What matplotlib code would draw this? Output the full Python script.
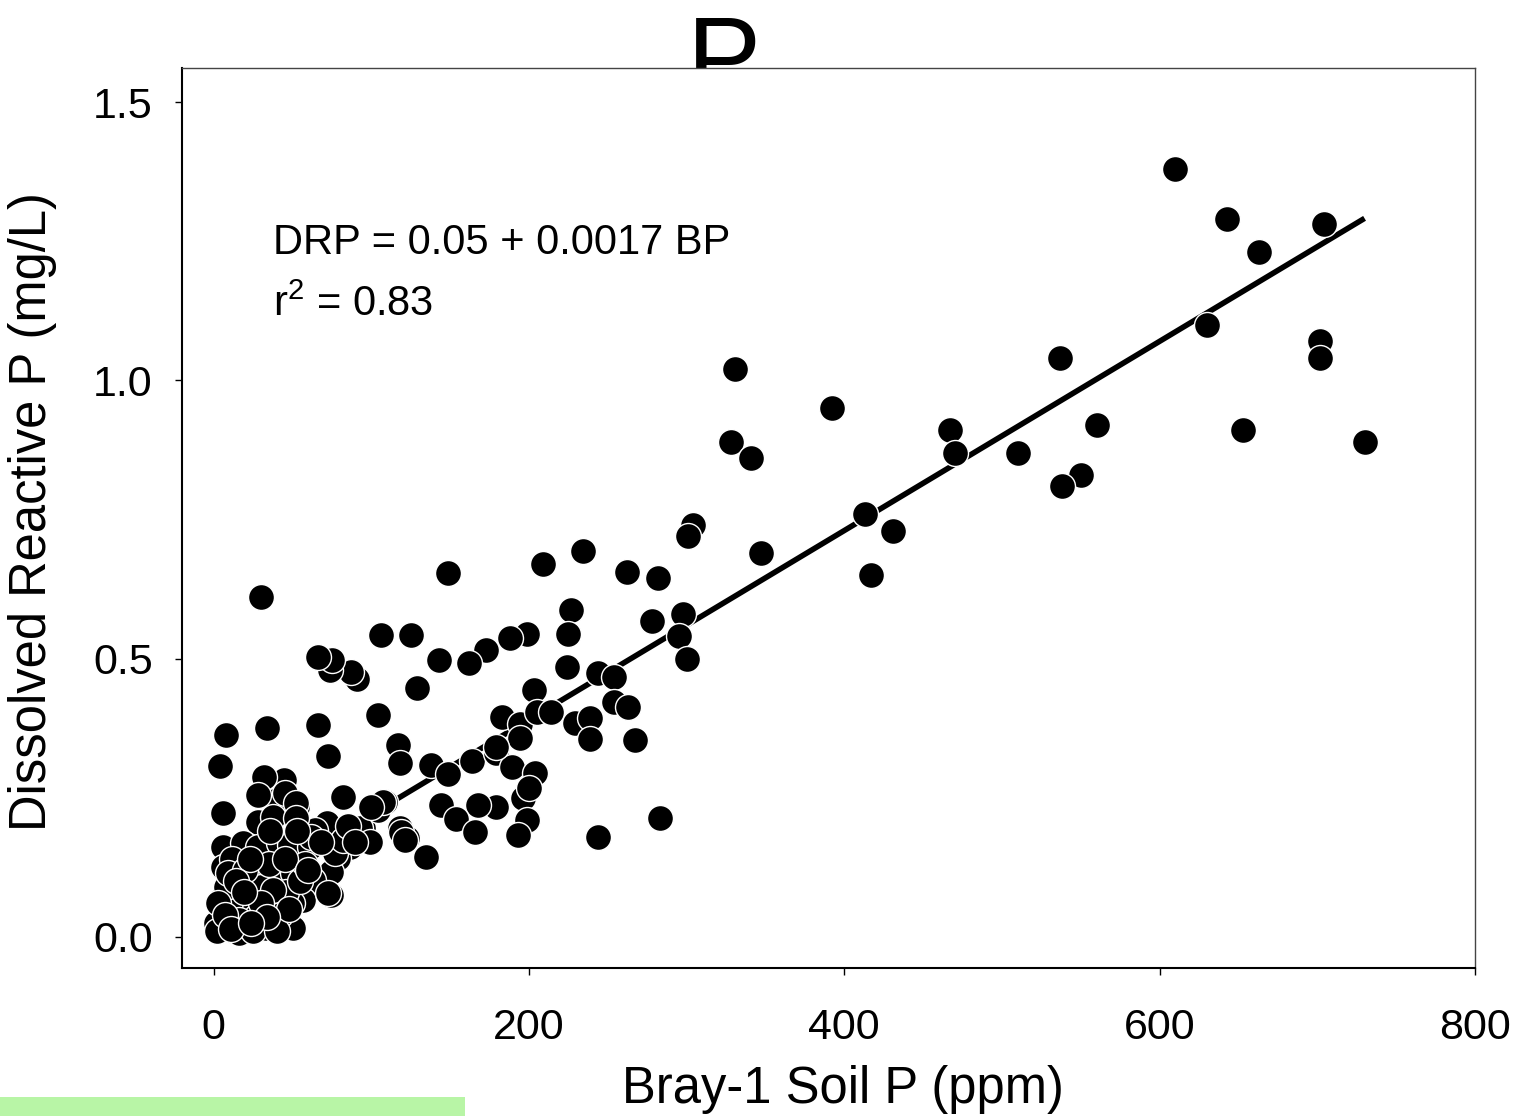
import matplotlib
matplotlib.use('Agg')
import matplotlib.pyplot as plt
from matplotlib.patches import Rectangle
import numpy as np

plt.rcParams['font.family'] = ['Liberation Sans', 'DejaVu Sans']
plt.rcParams['mathtext.default'] = 'regular'

# Bray-1 soil P (ppm) and dissolved reactive P (mg/L)
bp = [610, 643, 663, 704, 630, 702, 702, 653, 730, 537, 560, 550, 538, 510, 467, 470,
      392, 331, 328, 341, 413, 431, 417, 347, 304, 301, 298, 295, 300, 282, 278, 262,
      234, 209, 227, 225, 224, 199, 188, 173, 162, 149, 143, 125, 106.5, 30, 129, 91,
      87, 74, 75, 66.5, 66, 34, 8, 4, 104, 72.5, 82,
      203, 183, 194.6, 194.6, 205, 214, 244, 254, 254, 263, 229, 239, 239, 267.5, 117,
      118.5, 138, 149, 164, 179, 189, 204, 196, 199, 193, 179, 168, 144, 154, 166, 109,
      94.5, 123, 118.5, 283, 244, 135, 179, 200, 104.6, 107.7, 119, 121.7, 93, 86.8,
      99.5, 72, 64.6, 79.2, 74.2, 62.8, 74.2, 44.4, 53, 40, 57, 44.4,
      31.7, 28.5, 45.6, 52, 6.3, 27.9, 38, 52, 100, 6.3, 18.4, 28.5, 41.2, 48.8, 61,
      77.3, 82, 5.7, 24.7, 39.3, 50.7, 72.9, 13.9, 33, 6.3, 5.7, 20.3, 37.4, 50, 4.4,
      12, 33, 44.4, 50.7, 1.3, 16,
      10, 15, 8, 18, 12, 22, 26, 30, 35, 42, 46, 55, 58, 62, 27, 3, 9, 20, 31, 38,
      45, 53, 68, 85, 90, 36, 23, 16, 25, 40, 30, 14, 48, 2, 7, 19, 34, 11, 24, 60]
drp = [1.38, 1.29, 1.23, 1.28, 1.10, 1.07, 1.04, 0.91, 0.89, 1.04, 0.92, 0.83, 0.81, 0.87, 0.91, 0.87,
       0.95, 1.02, 0.89, 0.86, 0.76, 0.73, 0.65, 0.69, 0.74, 0.72, 0.58, 0.54, 0.50, 0.645, 0.567, 0.655,
       0.693, 0.670, 0.587, 0.544, 0.485, 0.544, 0.537, 0.515, 0.492, 0.653, 0.497, 0.542, 0.542, 0.610, 0.447, 0.463,
       0.476, 0.479, 0.497, 0.503, 0.381, 0.375, 0.363, 0.307, 0.399, 0.325, 0.251,
       0.443, 0.395, 0.382, 0.357, 0.404, 0.404, 0.474, 0.467, 0.422, 0.413, 0.384, 0.393, 0.355, 0.354, 0.345,
       0.312, 0.309, 0.293, 0.316, 0.330, 0.305, 0.294, 0.250, 0.210, 0.183, 0.233, 0.237, 0.237, 0.212, 0.189, 0.242,
       0.196, 0.178, 0.196, 0.214, 0.180, 0.144, 0.341, 0.267, 0.228, 0.242, 0.189, 0.174, 0.195, 0.162,
       0.171, 0.205, 0.192, 0.142, 0.117, 0.102, 0.075, 0.282, 0.233, 0.245, 0.066, 0.097,
       0.287, 0.255, 0.258, 0.241, 0.223, 0.206, 0.216, 0.214, 0.233, 0.162, 0.169, 0.162, 0.169, 0.165, 0.162,
       0.151, 0.174, 0.126, 0.102, 0.108, 0.115, 0.079, 0.079, 0.075, 0.072, 0.048, 0.043, 0.054, 0.061, 0.018,
       0.013, 0.016, 0.018, 0.016, 0.025, 0.007,
       0.03, 0.06, 0.09, 0.11, 0.14, 0.02, 0.05, 0.09, 0.13, 0.04, 0.08, 0.10, 0.13, 0.18, 0.035, 0.06, 0.115, 0.12, 0.03, 0.085,
       0.14, 0.19, 0.17, 0.20, 0.17, 0.19, 0.14, 0.03, 0.01, 0.01, 0.06, 0.10, 0.05, 0.01, 0.04, 0.08, 0.035, 0.015, 0.025, 0.12]

intercept = 0.05
slope = 0.0017

fig = plt.figure(figsize=(15.27, 11.16), dpi=100)
ax = fig.add_axes([0.1192, 0.1326, 0.8467, 0.8064])

xs = np.array([min(bp), max(bp)])
ax.plot(xs, intercept + slope * xs, color='black', lw=4, zorder=2, solid_capstyle='butt')
ax.scatter(bp, drp, s=350, c='black', edgecolors='white', linewidths=1.0, zorder=3)

ax.set_xlim(-20, 800)
ax.set_ylim(-0.056, 1.561)
ax.set_xticks([0, 200, 400, 600, 800])
ax.set_yticks([0.0, 0.5, 1.0, 1.5])
ax.set_yticklabels(['0.0', '0.5', '1.0', '1.5'])
ax.tick_params(direction='out', length=5, width=1, labelsize=31)
ax.tick_params(axis='x', pad=24)
ax.tick_params(axis='y', pad=16)

for side in ['left', 'bottom']:
    ax.spines[side].set_linewidth(1.5)
    ax.spines[side].set_color('black')
for side in ['top', 'right']:
    ax.spines[side].set_linewidth(1.0)
    ax.spines[side].set_color('#444444')

ax.set_xlabel('Bray-1 Soil P (ppm)', fontsize=36.5)
ax.xaxis.set_label_coords(0.511, -0.108)
ax.set_ylabel('Dissolved Reactive P (mg/L)', fontsize=36.5)
ax.yaxis.set_label_coords(-0.097, 0.507)

ax.text(0.0704, 0.806, 'DRP = 0.05 + 0.0017 BP', transform=ax.transAxes, fontsize=30, va='center')
ax.text(0.0704, 0.737, r'r$^{2}$ = 0.83', transform=ax.transAxes, fontsize=30, va='center')

# title sits partly behind the axes box
fig.text(0.474, 0.915, 'P', fontsize=80, ha='center', va='baseline', zorder=-1)

fig.patches.append(Rectangle((0, 0), 465 / 1527, 19 / 1116, transform=fig.transFigure,
                             facecolor='#b8f5a6', edgecolor='none'))

fig.savefig('out.png', dpi=100)
